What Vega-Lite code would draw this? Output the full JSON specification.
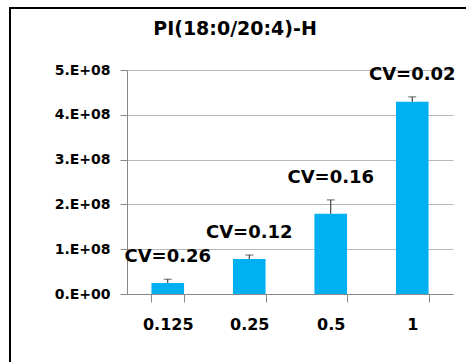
{
  "$schema": "https://vega.github.io/schema/vega-lite/v6.json",
  "autosize": "none",
  "padding": {"left": 10, "top": 8, "right": 0, "bottom": 0},
  "width": 480,
  "height": 372,
  "background": "white",
  "config": {
    "font": "DejaVu Sans",
    "view": {"stroke": "black", "strokeWidth": 2}
  },
  "title": {
    "text": "PI(18:0/20:4)-H",
    "font": "DejaVu Sans",
    "fontSize": 19,
    "fontWeight": "bold",
    "color": "black",
    "anchor": "middle",
    "frame": "group",
    "baseline": "alphabetic",
    "offset": -46,
    "dx": -15
  },
  "data": {
    "values": [
      {"conc": "0.125", "mean": 24500000, "upper": 33000000, "cv": "CV=0.26"},
      {"conc": "0.25", "mean": 78000000, "upper": 87000000, "cv": "CV=0.12"},
      {"conc": "0.5", "mean": 179000000, "upper": 210000000, "cv": "CV=0.16"},
      {"conc": "1", "mean": 429000000, "upper": 440000000, "cv": "CV=0.02"}
    ]
  },
  "encoding": {
    "x": {
      "field": "conc",
      "type": "nominal",
      "sort": null,
      "scale": {"type": "band", "range": [117, 443], "paddingInner": 0.6, "paddingOuter": 0.3},
      "axis": {
        "title": null,
        "labelAngle": 0,
        "labelFont": "DejaVu Sans",
        "labelFontSize": 16,
        "labelFontWeight": "bold",
        "labelColor": "black",
        "labelPadding": 14,
        "domainColor": "#888888",
        "tickColor": "#888888",
        "tickSize": 8,
        "tickBand": "extent",
        "offset": -86
      }
    }
  },
  "layer": [
    {
      "mark": {"type": "bar", "color": "#00B0F0"},
      "encoding": {
        "y": {
          "field": "mean",
          "type": "quantitative",
          "scale": {"domain": [0, 500000000], "range": [286, 62], "nice": false},
          "axis": {
            "title": null,
            "values": [0, 100000000, 200000000, 300000000, 400000000, 500000000],
            "labelExpr": "datum.value == 0 ? '0.E+00' : format(datum.value / 100000000, 'd') + '.E+08'",
            "labelFont": "DejaVu Sans",
            "labelFontSize": 14,
            "labelFontWeight": "bold",
            "labelColor": "black",
            "labelPadding": 10,
            "domainColor": "#888888",
            "tickColor": "#888888",
            "tickSize": 7,
            "gridColor": "#b8b8b8",
            "grid": true,
            "offset": -117
          }
        }
      }
    },
    {
      "mark": {"type": "rule", "color": "#222222", "strokeWidth": 1},
      "encoding": {
        "y": {"field": "mean", "type": "quantitative"},
        "y2": {"field": "upper"}
      }
    },
    {
      "mark": {"type": "tick", "color": "#222222", "thickness": 1, "size": 8},
      "encoding": {
        "y": {"field": "upper", "type": "quantitative"}
      }
    },
    {
      "mark": {"type": "text", "font": "DejaVu Sans", "fontSize": 18, "fontWeight": "bold", "color": "black", "baseline": "middle", "dy": -22},
      "encoding": {
        "y": {"field": "upper", "type": "quantitative"},
        "text": {"field": "cv"}
      }
    }
  ]
}
